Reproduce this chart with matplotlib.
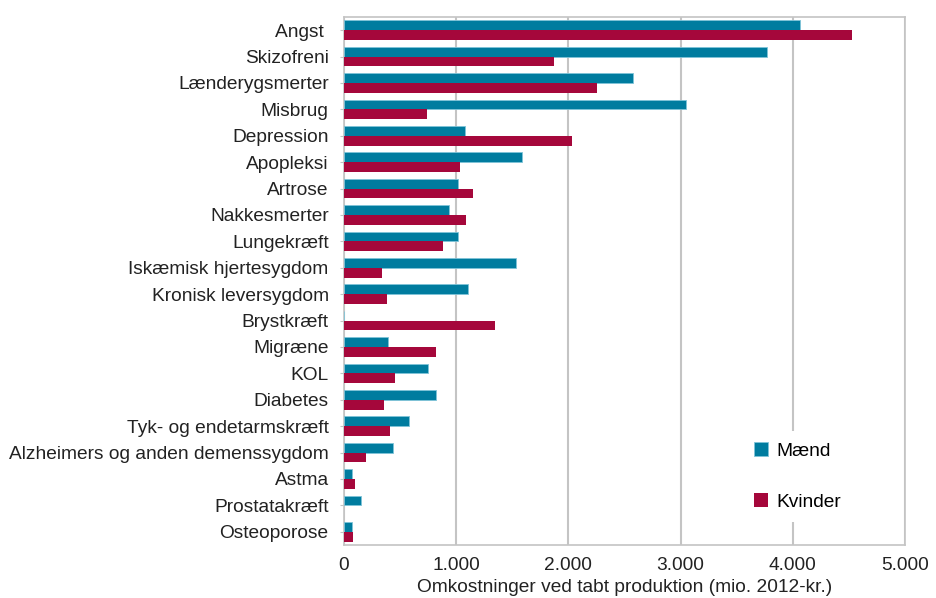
import matplotlib
matplotlib.use("Agg")
import matplotlib.pyplot as plt
import numpy as np

categories = ["Angst ", "Skizofreni", "Lænderygsmerter", "Misbrug", "Depression",
              "Apopleksi", "Artrose", "Nakkesmerter", "Lungekræft",
              "Iskæmisk hjertesygdom", "Kronisk leversygdom", "Brystkræft",
              "Migræne", "KOL", "Diabetes", "Tyk- og endetarmskræft",
              "Alzheimers og anden demenssygdom", "Astma", "Prostatakræft",
              "Osteoporose"]
maend = [4066, 3771, 2576, 3047, 1077, 1588, 1019, 938, 1019, 1530, 1107, 0,
         396, 752, 823, 582, 437, 71, 152, 71]
kvinder = [4526, 1872, 2255, 741, 2031, 1036, 1151, 1087, 884, 339, 386, 1347,
           823, 457, 359, 413, 196, 98, 0, 81]
xticks = [0, 1000, 2000, 3000, 4000, 5000]
xticklabels = ["0", "1.000", "2.000", "3.000", "4.000", "5.000"]

plt.rcParams['font.family'] = ['Liberation Sans', 'DejaVu Sans']

teal = "#007c9f"
crimson = "#a5073b"
fs = 13.8

fig = plt.figure(figsize=(9.36, 5.98), dpi=100)
ax = fig.add_axes([344/936, 1 - 545/598, (905-344)/936, (545-17)/598])

y = np.arange(len(categories))
h = 0.37
ax.barh(y - h/2, maend, height=h, color=teal, edgecolor="#7fc4d8", linewidth=0.6, label="Mænd", zorder=3)
ax.barh(y + h/2, kvinder, height=h, color=crimson, label="Kvinder", zorder=3)

ax.set_ylim(len(categories) - 0.5, -0.5)
ax.set_yticks(y)
ax.set_yticklabels(categories, fontsize=fs, color="#222222")
ax.set_xlim(0, 5000)
ax.set_xticks(xticks)
ax.set_xticklabels(xticklabels, fontsize=fs, color="#222222")
ax.set_xlabel("Omkostninger ved tabt produktion (mio. 2012-kr.)", fontsize=fs, color="#222222", labelpad=3)

ax.grid(axis="x", color="#c4c4c4", linewidth=1.5, zorder=0)
for s in ax.spines.values():
    s.set_color("#c4c4c4")
    s.set_linewidth(1.2)
ax.tick_params(axis="y", length=3, color="#c4c4c4", pad=8)
ax.tick_params(axis="x", length=0, pad=9)

leg = ax.legend(loc="upper left", bbox_to_anchor=(0.693, 0.235), frameon=True,
                fontsize=fs, labelspacing=1.75, handlelength=0.75, handleheight=0.75,
                handletextpad=0.45, borderpad=0.6)
leg.get_frame().set_facecolor("white")
leg.get_frame().set_edgecolor("none")
leg.get_frame().set_alpha(1)
leg.set_zorder(5)

fig.savefig("out.png", dpi=100)
